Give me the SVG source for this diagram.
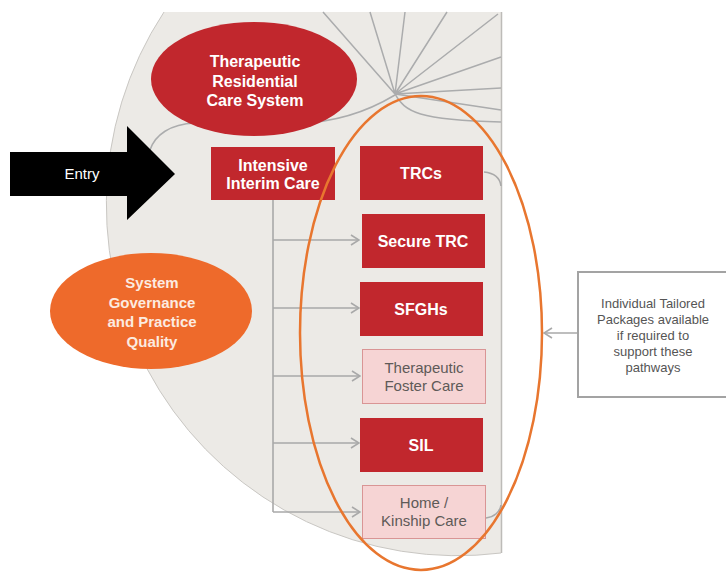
<svg xmlns="http://www.w3.org/2000/svg" width="726" height="572" viewBox="0 0 726 572">
<style>
.bx{fill:#C1272D}
.pk{fill:#F6D4D4;stroke:#D99595;stroke-width:1}
.tw{font-family:"Liberation Sans",Arial,sans-serif;font-weight:bold;font-size:16px;fill:#FFFFFF;text-anchor:middle}
.tg{font-family:"Liberation Sans",Arial,sans-serif;font-size:15px;fill:#5E5A58;text-anchor:middle}
.ti{font-family:"Liberation Sans",Arial,sans-serif;font-size:13px;fill:#555555;text-anchor:middle}
.fan{fill:none;stroke:#ABACAD;stroke-width:1.5}
.con{fill:none;stroke:#A9A9A9;stroke-width:1.6}
</style>
<defs>
<marker id="ah" viewBox="0 0 10 12" refX="9" refY="6" markerWidth="10" markerHeight="12" markerUnits="userSpaceOnUse" orient="auto">
<path d="M1,1 L9,6 L1,11" fill="none" stroke="#A9A9A9" stroke-width="1.6"/>
</marker>
</defs>
<rect width="726" height="572" fill="#FFFFFF"/>
<g id="background">
<path d="M501,12 L164,12 A351,351 0 0 0 501,553 Z" fill="#ECEAE6"/>
<path d="M164,12 A351,351 0 0 0 501,553" fill="none" stroke="#C9C7C3" stroke-width="1"/>
<line x1="501.5" y1="12" x2="501.5" y2="553" stroke="#BDBBB8" stroke-width="1.5"/>
</g>
<g id="fan">
<path class="fan" d="M395,94 L323,12 M395,94 L370,12 M395,94 L405,12 M395,94 L447,12 M395,94 L498,14 M395,94 L501,57 M395,94 L501,88 M395,94 L501,110"/>
<path class="fan" d="M395,94 C405,112 418,120 501,122"/>
<path class="fan" d="M395,95 C370,110 340,122 300,123 L195,123 C170,124 155,135 150,150"/>
</g>
<g id="connectors">
<path class="con" d="M273,200 L273,512"/>
<path class="con" d="M273,240 L359,240" marker-end="url(#ah)"/>
<path class="con" d="M273,308 L359,308" marker-end="url(#ah)"/>
<path class="con" d="M273,376 L360,376" marker-end="url(#ah)"/>
<path class="con" d="M273,443 L359,443" marker-end="url(#ah)"/>
<path class="con" d="M273,512 L360,512" marker-end="url(#ah)"/>
<path class="con" d="M484,172 C494,173 500,178 501,186"/>
<path class="con" d="M486,518 C494,517 500,512 501,505"/>
<path class="con" d="M578,333 L544,333" marker-end="url(#ah)"/>
</g>
<g id="trcs-ellipse">
<ellipse cx="254" cy="79" rx="103" ry="57" fill="#C1272D"/>
<text class="tw" x="255" y="67">Therapeutic</text>
<text class="tw" x="255" y="87">Residential</text>
<text class="tw" x="255" y="106">Care System</text>
</g>
<g id="governance">
<ellipse cx="151" cy="311" rx="101" ry="58" fill="#EE6A2B"/>
<text class="tw" x="152" y="288" style="font-size:15px;fill:#FCEBE0">System</text>
<text class="tw" x="152" y="308" style="font-size:15px;fill:#FCEBE0">Governance</text>
<text class="tw" x="152" y="327" style="font-size:15px;fill:#FCEBE0">and Practice</text>
<text class="tw" x="152" y="347" style="font-size:15px;fill:#FCEBE0">Quality</text>
</g>
<g id="entry">
<path d="M10,152 L127,152 L127,126 L175,174 L127,220 L127,196 L10,196 Z" fill="#000000"/>
<text x="82" y="179" style="font-family:'Liberation Sans',Arial,sans-serif;font-size:15px;fill:#FFFFFF;text-anchor:middle">Entry</text>
</g>
<g id="intensive-interim-care">
<rect class="bx" x="211" y="147" width="124" height="53"/>
<text class="tw" x="273" y="171">Intensive</text>
<text class="tw" x="273" y="189">Interim Care</text>
</g>
<g id="trcs">
<rect class="bx" x="360" y="146" width="123" height="54"/>
<text class="tw" x="421" y="179">TRCs</text>
</g>
<g id="secure-trc">
<rect class="bx" x="362" y="214" width="123" height="54"/>
<text class="tw" x="423" y="247">Secure TRC</text>
</g>
<g id="sfghs">
<rect class="bx" x="360" y="282" width="123" height="54"/>
<text class="tw" x="421" y="315">SFGHs</text>
</g>
<g id="therapeutic-foster-care">
<rect class="pk" x="362.5" y="349.5" width="123" height="54"/>
<text class="tg" x="424" y="373">Therapeutic</text>
<text class="tg" x="424" y="391">Foster Care</text>
</g>
<g id="sil">
<rect class="bx" x="360" y="418" width="123" height="54"/>
<text class="tw" x="421" y="451">SIL</text>
</g>
<g id="home-kinship-care">
<rect class="pk" x="362.5" y="485.5" width="123" height="53"/>
<text class="tg" x="424" y="508">Home /</text>
<text class="tg" x="424" y="526">Kinship Care</text>
</g>
<g id="pathways-ellipse">
<ellipse cx="421" cy="333" rx="121" ry="237" fill="none" stroke="#E8762F" stroke-width="2.5"/>
</g>
<g id="individual-packages">
<rect x="578" y="272" width="150" height="125" fill="#FFFFFF" stroke="#A3A3A3" stroke-width="2"/>
<text class="ti" x="653" y="308">Individual Tailored</text>
<text class="ti" x="653" y="324">Packages available</text>
<text class="ti" x="653" y="340">if required to</text>
<text class="ti" x="653" y="356">support these</text>
<text class="ti" x="653" y="372">pathways</text>
</g>
</svg>
